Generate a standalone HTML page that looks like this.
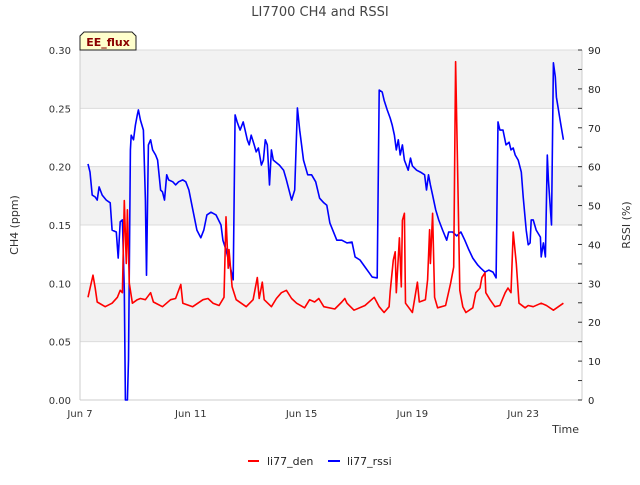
<!DOCTYPE html>
<html><head><meta charset="utf-8"><style>
body{margin:0;background:#fff;font-family:"Liberation Sans","DejaVu Sans",sans-serif;}
svg text{font-family:"DejaVu Sans","Liberation Sans",sans-serif;}
</style></head><body>
<svg id="chart" width="640" height="480" viewBox="0 0 640 480" xmlns="http://www.w3.org/2000/svg">
<rect width="640" height="480" fill="#fff"/>
<text x="320" y="16" text-anchor="middle" font-size="13" fill="#444">LI7700 CH4 and RSSI</text>
<g id="bands"></g>
<g id="grid"></g>
<g id="axes"></g>
<g id="series"></g>
<g>
<path d="M80,50 L80,36 L84,32 L132,32 L136,36 L136,50 Z" fill="#ffffcc" stroke="#222" stroke-width="1"/>
<text x="108" y="46" text-anchor="middle" font-size="11" font-weight="bold" fill="#8b0000">EE_flux</text>
</g>
<text x="18" y="225" transform="rotate(-90 18 225)" text-anchor="middle" font-size="11" fill="#333">CH4 (ppm)</text>
<text x="630" y="225" transform="rotate(-90 630 225)" text-anchor="middle" font-size="11" fill="#333">RSSI (%)</text>
<text x="579" y="433" text-anchor="end" font-size="11" fill="#333">Time</text>
<g>
<g>
<line x1="248" y1="461" x2="259" y2="461" stroke="#f00" stroke-width="2"/>
<text x="267" y="465" font-size="11" fill="#222">li77_den</text></g>
<g>
<line x1="328" y1="461" x2="340" y2="461" stroke="#00f" stroke-width="2"/>
<text x="347" y="465" font-size="11" fill="#222">li77_rssi</text></g>
</g>
</svg>
<script>
// data: time in days since Jun 7
const denTimes=[0.29,0.47,0.55,0.62,0.91,1.16,1.35,1.45,1.53,1.60,1.67,1.71,1.78,1.89,2.07,2.18,2.36,2.55,2.65,2.98,3.27,3.45,3.64,3.71,4.07,4.44,4.62,4.80,5.02,5.20,5.27,5.35,5.38,5.49,5.64,6.00,6.25,6.40,6.47,6.58,6.65,6.91,7.09,7.27,7.45,7.64,7.82,8.11,8.29,8.47,8.62,8.80,9.20,9.45,9.56,9.64,9.89,10.29,10.62,10.80,10.98,11.16,11.20,11.31,11.38,11.42,11.53,11.60,11.64,11.71,11.75,12.00,12.18,12.25,12.47,12.55,12.62,12.65,12.73,12.80,12.91,13.20,13.38,13.49,13.56,13.64,13.71,13.82,13.93,14.18,14.29,14.44,14.51,14.62,14.65,14.80,14.98,15.16,15.35,15.45,15.56,15.64,15.75,15.85,16.07,16.18,16.36,16.65,16.84,17.09,17.45];
const denValues=[0.088,0.107,0.096,0.084,0.080,0.083,0.088,0.094,0.092,0.171,0.117,0.163,0.100,0.083,0.086,0.087,0.086,0.092,0.084,0.080,0.086,0.087,0.099,0.083,0.080,0.086,0.087,0.083,0.081,0.088,0.157,0.113,0.129,0.097,0.086,0.080,0.086,0.105,0.087,0.101,0.086,0.080,0.087,0.092,0.094,0.087,0.083,0.079,0.086,0.084,0.087,0.080,0.078,0.084,0.087,0.083,0.077,0.081,0.088,0.080,0.075,0.080,0.093,0.120,0.127,0.092,0.139,0.097,0.154,0.160,0.083,0.075,0.101,0.084,0.086,0.103,0.146,0.117,0.160,0.088,0.079,0.081,0.100,0.114,0.290,0.189,0.094,0.080,0.075,0.079,0.092,0.096,0.105,0.109,0.092,0.086,0.080,0.081,0.092,0.096,0.092,0.144,0.117,0.083,0.079,0.081,0.080,0.083,0.081,0.077,0.083];
const rssiTimes=[0.29,0.36,0.44,0.55,0.62,0.69,0.80,0.95,1.09,1.16,1.31,1.38,1.45,1.53,1.60,1.64,1.71,1.75,1.82,1.85,1.93,2.00,2.07,2.11,2.18,2.29,2.36,2.40,2.47,2.55,2.62,2.73,2.80,2.91,2.98,3.05,3.13,3.20,3.35,3.45,3.56,3.71,3.82,3.93,4.04,4.22,4.36,4.47,4.58,4.73,4.91,5.09,5.16,5.27,5.45,5.53,5.60,5.67,5.78,5.89,5.96,6.04,6.11,6.18,6.29,6.36,6.44,6.55,6.62,6.69,6.76,6.84,6.91,6.98,7.20,7.35,7.45,7.64,7.75,7.85,7.93,8.07,8.22,8.36,8.51,8.65,8.80,8.91,9.02,9.27,9.45,9.64,9.82,9.93,10.11,10.29,10.44,10.55,10.73,10.80,10.91,10.98,11.09,11.20,11.27,11.35,11.42,11.49,11.56,11.64,11.71,11.78,11.85,11.93,12.00,12.15,12.29,12.44,12.51,12.58,12.65,12.73,12.84,12.95,13.09,13.24,13.31,13.45,13.60,13.75,13.89,14.04,14.18,14.36,14.47,14.62,14.76,14.91,15.02,15.09,15.16,15.27,15.38,15.49,15.56,15.64,15.71,15.82,15.93,16.00,16.11,16.18,16.25,16.29,16.36,16.47,16.62,16.65,16.73,16.80,16.87,16.91,17.02,17.09,17.16,17.20,17.35,17.45];
const rssiValues=[60.7,58.6,52.7,52.2,51.4,54.8,52.7,51.4,50.7,43.7,43.2,36.5,45.8,46.3,28.3,0,0,10.3,64.3,68.1,66.9,70.7,73.3,74.6,72.0,69.4,51.4,32.1,65.6,66.9,64.3,63.0,61.7,54.0,53.5,51.4,57.9,56.6,56.1,55.3,56.1,56.6,56.1,54.0,50.1,43.7,41.7,43.7,47.6,48.3,47.6,45.0,41.1,38.6,33.4,30.9,73.3,71.5,69.4,71.5,69.4,66.9,65.6,68.1,65.6,63.8,64.8,60.4,61.7,66.9,65.6,55.3,64.3,61.7,60.4,59.1,56.6,51.4,54.0,75.1,69.4,61.7,57.9,57.9,56.1,51.9,50.7,50.1,45.5,41.1,41.1,40.4,40.6,36.8,36.0,34.2,32.7,31.6,31.4,79.7,79.2,77.1,74.6,72.5,70.7,68.1,64.3,66.9,63.0,65.6,61.7,60.4,59.1,62.2,60.2,59.1,58.6,57.9,54.0,57.9,55.3,52.7,48.9,46.3,43.7,41.1,43.2,43.2,42.2,43.2,41.1,38.6,36.5,34.7,33.9,32.9,33.4,32.9,31.4,71.5,69.4,69.4,65.6,66.3,64.3,64.8,63.0,61.7,58.6,52.2,43.7,39.9,40.4,46.3,46.3,43.7,41.9,36.8,40.4,36.8,63.0,56.6,45.0,86.7,83.1,77.9,71.2,66.9];
const xTickDays=[0,4,8,12,16];
const xTickLabels=["Jun 7","Jun 11","Jun 15","Jun 19","Jun 23"];
const leftTicks=[0,0.05,0.10,0.15,0.20,0.25,0.30];
const leftTickLabels=["0.00","0.05","0.10","0.15","0.20","0.25","0.30"];
const rightTicks=[0,10,20,30,40,50,60,70,80,90];

const L=80,R=582,T=50,B=400,NS="http://www.w3.org/2000/svg";
const xS=d=>L+d*27.7;
const yL=v=>B-(v/0.30)*(B-T);
const yR=v=>B-(v/90)*(B-T);
function mk(tag,attrs,parent){const e=document.createElementNS(NS,tag);for(const k in attrs)e.setAttribute(k,attrs[k]);parent.appendChild(e);return e;}
const bands=document.getElementById('bands'),grid=document.getElementById('grid'),axes=document.getElementById('axes'),series=document.getElementById('series');
[[0.05,0.10],[0.15,0.20],[0.25,0.30]].forEach(b=>{const r=mk('rect',{x:L,y:yL(b[1]),width:R-L,height:yL(b[0])-yL(b[1]),fill:'#f2f2f2'},bands);

});
leftTicks.forEach((v,i)=>{
 const g=mk('line',{x1:L,x2:R,y1:yL(v),y2:yL(v),stroke:'#dcdcdc','stroke-width':1},grid);
 
 
 const t=mk('text',{x:L-9,y:yL(v)+4,'text-anchor':'end','font-size':10,fill:'#333'},axes);
 t.textContent=leftTickLabels[i];
 
 
});
mk('line',{x1:L,x2:L,y1:T,y2:B,stroke:'#ccc'},axes);
mk('line',{x1:L,x2:R,y1:B,y2:B,stroke:'#ccc'},axes);
mk('line',{x1:R,x2:R,y1:T,y2:B,stroke:'#ccc'},axes);
for(let v=0;v<=90;v+=5){mk('line',{x1:R,x2:R-4,y1:yR(v),y2:yR(v),stroke:'#333'},axes);}
rightTicks.forEach(v=>{
 const t=mk('text',{x:R+6,y:yR(v)+4,'font-size':10,fill:'#222'},axes);
 t.textContent=String(v);
 
 
});
xTickDays.forEach((d,i)=>{
 const t=mk('text',{x:xS(d),y:B+17,'text-anchor':'middle','font-size':10,fill:'#333'},axes);
 t.textContent=xTickLabels[i];
 
 
});
function path(times,vals,ys){return times.map((t,i)=>(i?'L':'M')+xS(t).toFixed(1)+','+ys(vals[i]).toFixed(1)).join('');}
const pb=mk('path',{d:path(rssiTimes,rssiValues,yR),fill:'none',stroke:'#00f','stroke-width':1.6,'stroke-linejoin':'round'},series);


const pr=mk('path',{d:path(denTimes,denValues,yL),fill:'none',stroke:'#f00','stroke-width':1.6,'stroke-linejoin':'round'},series);


</script>
</body></html>
